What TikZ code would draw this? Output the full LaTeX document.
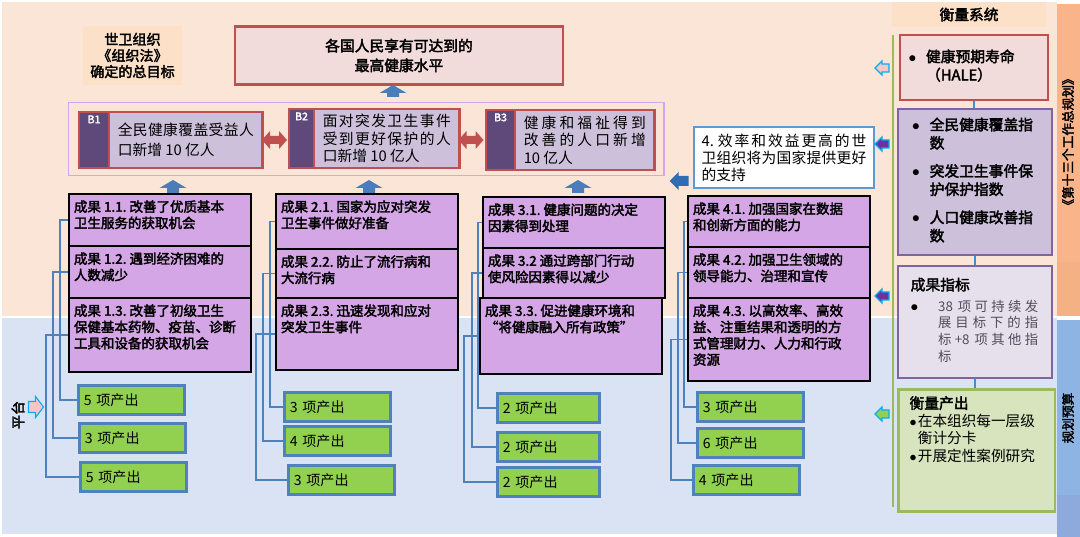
\documentclass[tikz,border=0pt]{standalone}
\usepackage{fontspec}
\setmainfont{Noto Sans CJK SC}[AutoFakeBold=2.5]
\XeTeXlinebreaklocale "zh"
\XeTeXlinebreakskip=0pt plus 3pt
\usepackage{tikz}

\definecolor{peachbg}{HTML}{FBE5D6}
\definecolor{bluebg}{HTML}{DAE3F3}
\definecolor{headfill}{HTML}{FCE0C8}
\definecolor{goalfill}{HTML}{F2DCDB}
\definecolor{redline}{HTML}{C0504D}
\definecolor{bline}{HTML}{D4A5F0}
\definecolor{tabfill}{HTML}{5F497A}
\definecolor{bfill}{HTML}{CCC0DA}
\definecolor{outcfill}{HTML}{D5A6E6}
\definecolor{outpfill}{HTML}{92D050}
\definecolor{outpline}{HTML}{4F81BD}
\definecolor{arrblue}{HTML}{4A7EBB}
\definecolor{arrdark}{HTML}{2E6DB4}
\definecolor{supline}{HTML}{5B9BD5}
\definecolor{linkblue}{HTML}{3D8FD6}
\definecolor{lavline}{HTML}{8064A2}
\definecolor{lavfill}{HTML}{E6E0EC}
\definecolor{grnfill}{HTML}{D7E4BD}
\definecolor{grnline}{HTML}{9BBB59}
\definecolor{cyanline}{HTML}{00B0F0}
\definecolor{pinkarr}{HTML}{F8C6C6}
\definecolor{purparr}{HTML}{7030A0}
\definecolor{stripor}{HTML}{FAB48A}
\definecolor{stripor2}{HTML}{F4B183}
\definecolor{stripbl}{HTML}{8DB4E2}
\definecolor{stripbl2}{HTML}{8EA9DB}
\definecolor{greytext}{HTML}{4D4D5C}

\newcommand{\ob}[2]{\parbox[c][#1][t]{4.3cm}{#2}}
% style, centre, angle, length, head length, head width, shaft width
\newcommand{\blockarr}[7]{%
  \begin{scope}[shift={#2}, rotate=#3]
    \path[#1] (-#4/2,-#7/2) -- (#4/2-#5,-#7/2) -- (#4/2-#5,-#6/2) -- (#4/2,0)
      -- (#4/2-#5,#6/2) -- (#4/2-#5,#7/2) -- (-#4/2,#7/2) -- cycle;
  \end{scope}}
% style, centre, length, head length, head width, shaft width
\newcommand{\twoarr}[6]{%
  \begin{scope}[shift={#2}]
    \path[#1] (-#3/2,0) -- (-#3/2+#4,-#5/2) -- (-#3/2+#4,-#6/2) -- (#3/2-#4,-#6/2)
      -- (#3/2-#4,-#5/2) -- (#3/2,0) -- (#3/2-#4,#5/2) -- (#3/2-#4,#6/2)
      -- (-#3/2+#4,#6/2) -- (-#3/2+#4,#5/2) -- cycle;
  \end{scope}}

\begin{document}
\begin{tikzpicture}[x=0.025cm, y=-0.025cm,
  hdr/.style={fill=headfill, font=\bfseries\fontsize{10}{11.5}\selectfont, align=center},
  goal/.style={draw=redline, line width=1.5pt, fill=goalfill, font=\bfseries\fontsize{10.5}{14}\selectfont, align=center, minimum width=8.2cm, minimum height=1.45cm},
  bcont/.style={draw=bline, line width=1pt, anchor=north west, minimum width=14.875cm, minimum height=1.825cm},
  btab/.style={draw=redline, line width=1.5pt, fill=tabfill, anchor=north west, inner sep=0pt},
  blab/.style={anchor=north, text=white, font=\bfseries\fontsize{7.5}{8}\selectfont, inner sep=0pt, yshift=-3pt},
  btext/.style={draw=redline, line width=1.5pt, fill=bfill, anchor=north west, align=justify, inner xsep=6.2pt, font=\fontsize{10.5}{12.5}\selectfont},
  outc/.style={draw=black, line width=1.5pt, fill=outcfill, anchor=north west, inner xsep=3.5pt, inner ysep=4.5pt, font=\bfseries\fontsize{9.6}{11.6}\selectfont},
  outp/.style={draw=outpline, line width=1.8pt, fill=outpfill, anchor=north west, text width=2.37cm, minimum height=0.73cm, align=left, inner xsep=4pt, font=\fontsize{10}{12}\selectfont},
  conn/.style={draw=outpline, line width=0.9pt},
  supbox/.style={draw=supline, line width=1.6pt, fill=white, anchor=north west, text width=4.12cm, align=justify, inner xsep=5.3pt, minimum height=1.52cm, font=\fontsize{10.5}{12}\selectfont},
  mbox/.style={anchor=north west, line width=1.5pt, font=\bfseries\fontsize{10.5}{13}\selectfont, align=left},
  vlink/.style={draw=linkblue, line width=0.9pt},
  vtext/.style={rotate=90, font=\bfseries\fontsize{9}{9}\selectfont},
  uparr/.style={fill=arrblue},
  dblarr/.style={fill=redline},
  smarr/.style={draw=cyanline, line width=0.8pt}
]
\useasboundingbox (0,0) rectangle (1080,537);
\fill[peachbg] (2,2) rectangle (1057,316);
\fill[bluebg] (2,318) rectangle (1057,534);
\fill[stripor] (1057,4) rectangle (1080,262);
\fill[stripor2] (1057,262) rectangle (1080,316);
\fill[stripbl] (1057,320) rectangle (1080,495);
\fill[stripbl2] (1057,495) rectangle (1080,537);

\node[hdr, minimum width=2.475cm, minimum height=1.475cm] (who) at (132.5,55.5) {世卫组织\\《组织法》\\确定的总目标};
\node[goal] (goal) at (399,55.5) {各国人民享有可达到的\\最高健康水平};

\node[bcont] (bc) at (68,102) {};
\node[btab, minimum width=0.75cm, minimum height=1.4cm, label={[blab]north:B1}] (t1) at (78,111) {};
\node[btext, text width=3.4cm, minimum height=1.4cm, font=\fontsize{10.5}{14}\selectfont] (b1) at (108,111) {全民健康覆盖受益人\linebreak 口新增 10 亿人};
\node[btab, minimum width=0.625cm, minimum height=1.475cm, label={[blab]north:B2}] (t2) at (288,108) {};
\node[btext, text width=3.2cm, minimum height=1.475cm] (b2) at (313,108) {面对突发卫生事件\linebreak 受到更好保护的人\linebreak 口新增 10 亿人};
\node[btab, minimum width=0.725cm, minimum height=1.5cm, label={[blab]north:B3}] (t3) at (485,109) {};
\node[btext, text width=3.05cm, minimum height=1.5cm] (b3) at (514,109) {健康和福祉得到\linebreak 改善的人口新增\linebreak 10 亿人};
\twoarr{dblarr}{(274.5,140)}{25}{8}{18}{8}
\twoarr{dblarr}{(471,140)}{25}{8}{18}{8}
\blockarr{uparr}{(393,91)}{90}{12}{8}{27}{12}

\node[supbox] (sup) at (693,126) {4.\ 效率和效益更高的世\linebreak 卫组织将为国家提供更好\linebreak 的支持};
\blockarr{fill=arrdark}{(679,181)}{180}{19}{9}{18}{10}

\blockarr{uparr}{(173,186.5)}{90}{13}{8}{27}{12}
\blockarr{uparr}{(369,186.5)}{90}{13}{8}{27}{12}
\blockarr{uparr}{(578,186.5)}{90}{13}{8}{27}{12}

\node[outp] (p11) at (77,384) {5 项产出};
\node[outp] (p12) at (78,422) {3 项产出};
\node[outp] (p13) at (79,461) {5 项产出};
\node[outp] (p21) at (283,391) {3 项产出};
\node[outp] (p22) at (283,425) {4 项产出};
\node[outp] (p23) at (287,464) {3 项产出};
\node[outp, text width=2.27cm] (p31) at (496,392) {2 项产出};
\node[outp, text width=2.27cm] (p32) at (496,431) {2 项产出};
\node[outp, text width=2.27cm] (p33) at (496,466) {2 项产出};
\node[outp] (p41) at (696,391) {3 项产出};
\node[outp] (p42) at (696,427) {6 项产出};
\node[outp] (p43) at (692,464) {4 项产出};

\node[outc] (o11) at (68,193) {\ob{0.98cm}{成果 1.1.\ 改善了优质基本\\卫生服务的获取机会}};
\node[outc] (o12) at (68,245) {\ob{0.98cm}{成果 1.2.\ 遇到经济困难的\\人数减少}};
\node[outc] (o13) at (68,297) {\ob{1.53cm}{成果 1.3.\ 改善了初级卫生\\保健基本药物、疫苗、诊断\\工具和设备的获取机会}};
\node[outc] (o21) at (275,193) {\ob{1.06cm}{成果 2.1.\ 国家为应对突发\\卫生事件做好准备}};
\node[outc] (o22) at (275,248) {\ob{0.91cm}{成果 2.2.\ 防止了流行病和\\大流行病}};
\node[outc] (o23) at (275,297) {\ob{1.48cm}{成果 2.3.\ 迅速发现和应对\\突发卫生事件}};
\node[outc] (o31) at (482,196) {\ob{0.96cm}{成果 3.1.\ 健康问题的决定\\因素得到处理}};
\node[outc] (o32) at (482,247) {\ob{0.93cm}{成果 3.2\ 通过跨部门行动\\使风险因素得以减少}};
\node[outc] (o33) at (479,297) {\ob{1.58cm}{成果 3.3.\ 促进健康环境和\\“将健康融入所有政策”}};
\node[outc] (o41) at (687,195) {\ob{0.96cm}{成果 4.1.\ 加强国家在数据\\和创新方面的能力}};
\node[outc] (o42) at (687,246) {\ob{0.96cm}{成果 4.2.\ 加强卫生领域的\\领导能力、治理和宣传}};
\node[outc] (o43) at (687,297) {\ob{1.76cm}{成果 4.3.\ 以高效率、高效\\益、注重结果和透明的方\\式管理财力、人力和行政\\资源}};

\draw[conn] (o11.west) -- ++(-8,0) |- (p11.west);
\draw[conn] (o12.west) -- ++(-15,0) |- (p12.west);
\draw[conn] (o13.west) -- ++(-22,0) |- (p13.west);
\draw[conn] (o21.west) -- ++(-5,0) |- (p21.west);
\draw[conn] (o22.west) -- ++(-12,0) |- (p22.west);
\draw[conn] (o23.west) -- ++(-19,0) |- (p23.west);
\draw[conn] (o31.west) -- ++(-4,0) |- (p31.west);
\draw[conn] (o32.west) -- ++(-10,0) |- (p32.west);
\draw[conn] (o33.west) -- ++(-15,0) |- (p33.west);
\draw[conn] (o41.west) -- ++(-3,0) |- (p41.west);
\draw[conn] (o42.west) -- ++(-9,0) |- (p42.west);
\draw[conn] (o43.west) -- ++(-16,0) |- (p43.west);

\node[hdr, minimum width=3.85cm, minimum height=0.63cm, font=\bfseries\fontsize{10.5}{12}\selectfont] (sys) at (969,14.5) {衡量系统};
\coordinate (gtop) at (893,35);
\coordinate (gbot) at (893,507);
\draw[grnline, line width=1.2pt] (gtop) -- (gbot);
\node[mbox, draw=redline, fill=goalfill, inner xsep=6pt, text width=3.28cm, minimum height=1.625cm] (hale) at (899,34) {\begin{tabular}{@{}l@{\hspace{7pt}}l@{}}
$\bullet$ & 健康预期寿命\\
 & （HALE）
\end{tabular}};
\node[mbox, draw=lavline, fill=bfill, inner xsep=10pt, text width=3.14cm, minimum height=3.65cm] (ind) at (897,108) {\begin{tabular}{@{}l@{\hspace{7pt}}l@{}}
$\bullet$ & 全民健康覆盖指\\
 & 数\\[7pt]
$\bullet$ & 突发卫生事件保\\
 & 护保护指数\\[7pt]
$\bullet$ & 人口健康改善指\\
 & 数
\end{tabular}};
\node[mbox, draw=lavline, fill=lavfill, inner xsep=9pt, text width=3.21cm, minimum height=2.8cm] (oi) at (897,265) {\begin{tabular}{@{}l@{\hspace{14pt}}p{2.5cm}@{}}
\multicolumn{2}{@{}l@{}}{成果指标}\\[2pt]
$\bullet$ & \leavevmode\mdseries\color{greytext}\fontsize{9.5}{11.8}\selectfont 38 项可持续发\linebreak 展目标下的指\linebreak 标+8 项其他指\linebreak 标
\end{tabular}};
\node[mbox, draw=grnline, fill=grnfill, line width=1.8pt, inner xsep=8pt, inner ysep=5pt] (mo) at (897,388) {\parbox[c][2.7cm][t]{3.36cm}{衡量产出\par
\mdseries\fontsize{10.4}{12.4}\selectfont
\begin{tabular}[t]{@{}l@{\hspace{1pt}}l@{}}
$\bullet$ & 在本组织每一层级\\
 & 衡计分卡\\
$\bullet$ & 开展定性案例研究
\end{tabular}}};
\draw[vlink] (hale.south) -- (hale.south |- ind.north);
\draw[vlink] (ind.south) -- (ind.south |- oi.north);
\draw[vlink] (oi.south) -- (oi.south |- mo.north);

\blockarr{smarr, fill=pinkarr}{(882,68)}{180}{14}{7}{14}{8}
\blockarr{smarr, fill=purparr}{(882,144)}{180}{14}{7}{14}{8}
\blockarr{smarr, fill=purparr}{(882,296)}{180}{14}{7}{14}{8}
\blockarr{smarr, fill=outpfill}{(882,414)}{180}{14}{7}{14}{8}

\blockarr{smarr, fill=pinkarr}{(36,407)}{0}{15}{8}{21}{11}
\node[rotate=90, font=\bfseries\fontsize{10}{10}\selectfont] (plat) at (18,415) {平台};

\node[vtext] (plan) at (1068,142) {《第十三个工作总规划》};
\node[vtext] (budget) at (1068,418) {规划预算};
\end{tikzpicture}
\end{document}
